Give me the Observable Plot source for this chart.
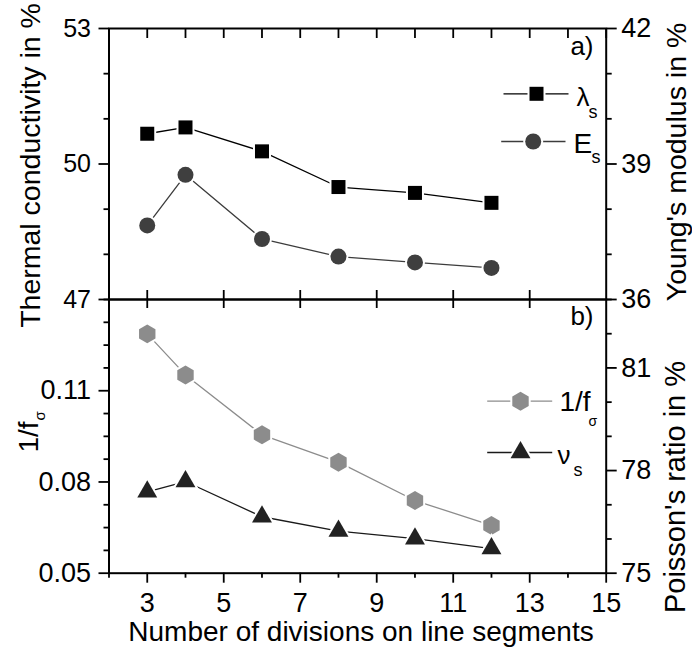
<!DOCTYPE html>
<html><head><meta charset="utf-8">
<script src="https://cdn.jsdelivr.net/npm/d3@7"></script>
<script src="https://cdn.jsdelivr.net/npm/@observablehq/plot@0.6"></script>
<style>
html,body{margin:0;padding:0;background:#fff;}
#chart{position:relative;width:692px;height:647px;}
#chart svg{position:absolute;left:0;top:0;}
</style></head><body><div id="chart"></div>
<script>
// ---- data ----
const divisions = [3, 4, 6, 8, 10, 12];
const lambdaS  = [50.67, 50.81, 50.28, 49.49, 49.36, 49.14];   // thermal conductivity in %
const youngS   = [37.64, 38.76, 37.34, 36.95, 36.82, 36.70];   // Young's modulus in %
const invF     = [0.1287, 0.1152, 0.0955, 0.0865, 0.0739, 0.0657]; // 1/f_sigma
const poissonS = [77.38, 77.68, 76.65, 76.23, 76.01, 75.72];   // Poisson's ratio in %

const xDomain = [2, 15];
const xMajor = [3, 5, 7, 9, 11, 13, 15];
const xMinor = [2, 4, 6, 8, 10, 12, 14];
const xAll = d3.range(2, 16);
const thermalDomain = [47, 53], thermalMajor = [47, 50, 53], thermalMinor = [48, 49, 51, 52];
const youngDomain = [36, 42], youngMajor = [36, 39, 42], youngMinor = [37, 38, 40, 41];
const invFDomain = [0.05, 0.14], invFMajor = [0.05, 0.08, 0.11],
      invFMinor = [0.0575, 0.065, 0.0725, 0.0875, 0.095, 0.1025, 0.1175, 0.125, 0.1325, 0.14];
const poissonDomain = [75, 83], poissonMajor = [75, 78, 81], poissonMinor = [76, 77, 79, 80, 82, 83];

// ---- layout ----
const W = 692, H = 647, L = 108.5, XR = 605.7, T1 = 28, MID = 299, B2 = 572.7;
const FONT = '"Liberation Sans", Arial, Helvetica, sans-serif';
const TW = 1.8;
const intFmt = d3.format("d");

const rows = (ys) => divisions.map((x, i) => ({x, y: ys[i]}));
const lambdaData = rows(lambdaS), youngData = rows(youngS), invFData = rows(invF), poissonData = rows(poissonS);

// pixel -> data helpers (for legend placement)
const X = p => xDomain[0] + (p - L) * (xDomain[1] - xDomain[0]) / (XR - L);
const Yinv = (dom, top, bot) => p => dom[1] - (p - top) * (dom[1] - dom[0]) / (bot - top);
const yT = Yinv(thermalDomain, T1, MID), yY = Yinv(youngDomain, T1, MID);
const yF = Yinv(invFDomain, MID, B2), yP = Yinv(poissonDomain, MID, B2);

function panel(top, bottom, yDomain, marks, xAxis = null) {
  return Plot.plot({
    width: W, height: H,
    marginLeft: L, marginRight: W - XR, marginTop: top, marginBottom: H - bottom,
    x: {domain: xDomain, axis: xAxis},
    y: {domain: yDomain, axis: null},
    style: {background: "transparent", fontFamily: FONT, color: "black", overflow: "visible"},
    marks
  });
}
const halo = {stroke: "white", strokeWidth: 4, paintOrder: "stroke"};
function legendRow(yfun, pyLine, x1, x2, xm, dotOpts, lineColor) {
  return [
    Plot.link([0], {x1: X(x1), x2: X(x2), y1: yfun(pyLine), y2: yfun(pyLine), stroke: lineColor, strokeWidth: 1.3}),
    Plot.dot([0], {x: X(xm), y: yfun(pyLine), ...dotOpts, ...halo})
  ];
}
const label = (txt, opts) => Plot.text([txt], {text: d => d, fill: "black", ...opts});

const hTop = MID - T1, hBot = B2 - MID;

// ---- top panel, left scale (thermal conductivity) ----
const topL = panel(T1, MID, thermalDomain, [
  Plot.ruleX(xAll, {x: d => d, insetBottom: hTop - 10, stroke: "black", strokeWidth: TW}),
  Plot.ruleX(xMajor.filter(v => v < 15), {x: d => d, insetTop: hTop - 9, stroke: "black", strokeWidth: TW}),
  Plot.axisY({ticks: thermalMajor, tickSize: 10, tickPadding: 8, fontSize: 25, label: null, tickFormat: intFmt, strokeWidth: TW}),
  Plot.axisY({ticks: thermalMinor, tickSize: 5, tickFormat: () => "", label: null, strokeWidth: TW}),
  Plot.line(lambdaData, {x: "x", y: "y", stroke: "black", strokeWidth: 1.3}),
  Plot.dot(lambdaData, {x: "x", y: "y", symbol: "square", r: 7.9, fill: "black", ...halo}),
  ...legendRow(yT, 93.3, 503, 568, 536, {symbol: "square", r: 7.9, fill: "black"}, "black"),
  label("λ", {x: X(576), y: yT(105), textAnchor: "start", lineAnchor: "bottom", fontSize: 26}),
  label("s", {x: X(588), y: yT(117), textAnchor: "start", lineAnchor: "bottom", fontSize: 18}),
  label("a)", {frameAnchor: "top-right", dx: -12.7, dy: 8, textAnchor: "end", lineAnchor: "top", fontSize: 26}),
  label("Thermal conductivity in %", {frameAnchor: "left", dx: 19 - L, dy: 1.5, rotate: -90, lineAnchor: "top", textAnchor: "middle", fontSize: 28.5}),
  Plot.frame({stroke: "black", strokeWidth: 2})
]);

// ---- top panel, right scale (Young's modulus) ----
const topR = panel(T1, MID, youngDomain, [
  Plot.axisY({anchor: "right", ticks: youngMajor, tickSize: 10, tickPadding: 5, fontSize: 27, label: null, tickFormat: intFmt, strokeWidth: TW}),
  Plot.axisY({anchor: "right", ticks: youngMinor, tickSize: 5, tickFormat: () => "", label: null, strokeWidth: TW}),
  Plot.line(youngData, {x: "x", y: "y", stroke: "#3c3c3c", strokeWidth: 1.3}),
  Plot.dot(youngData, {x: "x", y: "y", symbol: "circle", r: 8, fill: "#3f3f3f", ...halo}),
  ...legendRow(yY, 141, 500.7, 565, 532.7, {symbol: "circle", r: 8, fill: "#3f3f3f"}, "#3c3c3c"),
  label("E", {x: X(573), y: yY(152), textAnchor: "start", lineAnchor: "bottom", fontSize: 28}),
  label("s", {x: X(591), y: yY(162), textAnchor: "start", lineAnchor: "bottom", fontSize: 18}),
  label("Young's modulus in %", {frameAnchor: "right", dx: 665 - XR, dy: -2, rotate: -90, lineAnchor: "top", textAnchor: "middle", fontSize: 28.5})
]);

// ---- bottom panel, left scale (1/f_sigma) ----
const botL = panel(MID, B2, invFDomain, [
  Plot.ruleX(xMajor.filter(v => v < 15), {x: d => d, insetBottom: hBot - 9, stroke: "black", strokeWidth: TW}),
  Plot.axisY({ticks: invFMajor, tickSize: 10, tickPadding: 8, fontSize: 27, label: null, tickFormat: d3.format(".2f"), strokeWidth: TW}),
  Plot.axisY({ticks: invFMinor, tickSize: 5, tickFormat: () => "", label: null, strokeWidth: TW}),
  Plot.axisX({ticks: xMajor, tickSize: 10, tickPadding: 10, fontSize: 27, label: null, tickFormat: intFmt, strokeWidth: TW}),
  Plot.axisX({ticks: xMinor, tickSize: 5, tickFormat: () => "", label: null, strokeWidth: TW}),
  Plot.line(invFData, {x: "x", y: "y", stroke: "#8c8c8c", strokeWidth: 1.3}),
  Plot.dot(invFData, {x: "x", y: "y", symbol: "hexagon", r: 8.2, fill: "#8c8c8c", ...halo}),
  ...legendRow(yF, 400.7, 486.7, 551.7, 520, {symbol: "hexagon", r: 8.2, fill: "#8c8c8c"}, "#8c8c8c"),
  label("1/f", {x: X(559), y: yF(410), textAnchor: "start", lineAnchor: "bottom", fontSize: 28}),
  label("σ", {x: X(588), y: yF(425), textAnchor: "start", lineAnchor: "bottom", fontSize: 14}),
  label("b)", {frameAnchor: "top-right", dx: -12.7, dy: 7, textAnchor: "end", lineAnchor: "top", fontSize: 26}),
  label("Number of divisions on line segments", {frameAnchor: "bottom", dx: 3.4, dy: 621 - B2, lineAnchor: "top", textAnchor: "middle", fontSize: 28}),
  label("1/f", {frameAnchor: "left", dx: 18 - L, dy: 452 - (MID + B2) / 2, rotate: -90, lineAnchor: "top", textAnchor: "start", fontSize: 28}),
  label("σ", {frameAnchor: "left", dx: 44 - L, dy: 420 - (MID + B2) / 2, rotate: -90, lineAnchor: "bottom", textAnchor: "start", fontSize: 15}),
  Plot.frame({stroke: "black", strokeWidth: 2})
], undefined);

// ---- bottom panel, right scale (Poisson's ratio) ----
const botR = panel(MID, B2, poissonDomain, [
  Plot.axisY({anchor: "right", ticks: poissonMajor, tickSize: 10, tickPadding: 5, fontSize: 27, label: null, tickFormat: intFmt, strokeWidth: TW}),
  Plot.axisY({anchor: "right", ticks: poissonMinor, tickSize: 5, tickFormat: () => "", label: null, strokeWidth: TW}),
  Plot.line(poissonData, {x: "x", y: "y", stroke: "#1a1a1a", strokeWidth: 1.3}),
  Plot.dot(poissonData, {x: "x", y: "y", symbol: "triangle", r: 7.4, fill: "#222", ...halo}),
  ...legendRow(yP, 452, 486.7, 551.7, 520, {symbol: "triangle", r: 7.4, fill: "#222"}, "#1a1a1a"),
  label("ν", {x: X(557), y: yP(463), textAnchor: "start", lineAnchor: "bottom", fontSize: 26}),
  label("s", {x: X(573), y: yP(475), textAnchor: "start", lineAnchor: "bottom", fontSize: 18}),
  label("Poisson's ratio in %", {frameAnchor: "right", dx: 664 - XR, dy: 486.5 - (MID + B2) / 2, rotate: -90, lineAnchor: "top", textAnchor: "middle", fontSize: 29})
]);

const chart = document.getElementById("chart");
[botL, botR, topL, topR].forEach(s => chart.appendChild(s));
</script></body></html>
